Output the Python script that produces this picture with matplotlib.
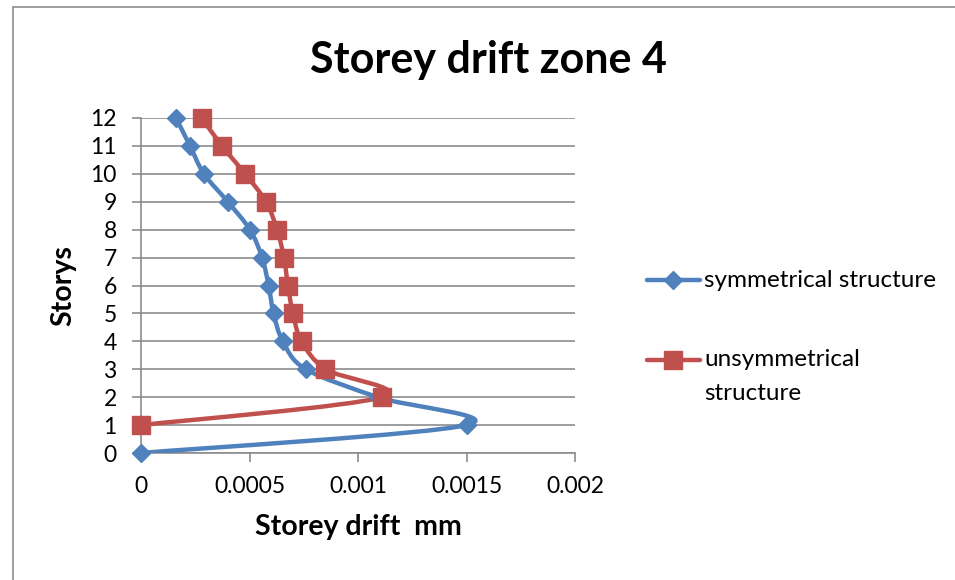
import numpy as np
import matplotlib
matplotlib.use("Agg")
from matplotlib import pyplot as plt
from matplotlib.path import Path
from matplotlib.patches import PathPatch, Rectangle
from matplotlib.lines import Line2D

plt.rcParams['font.family'] = ['Lato', 'DejaVu Sans']

# data
storys = [0, 1, 2, 3, 4, 5, 6, 7, 8, 9, 10, 11, 12]
sym_drift = [0.0, 0.0015, 0.00109, 0.00076, 0.000654, 0.000611, 0.000588, 0.000558,
             0.000502, 0.0004, 0.00029, 0.000226, 0.000161]
unsym_drift = [None, 0.0, 0.00111, 0.00085, 0.00074, 0.0007, 0.000677, 0.000659,
               0.000627, 0.000576, 0.00048, 0.000373, 0.00028]
legend_labels = ['symmetrical structure', 'unsymmetrical\nstructure']

blue = '#4F81BD'
red = '#C0504D'
grey = '#8C8C8C'
W, H = 955, 580


def smooth_path(xs, ys):
    # excel style smoothed line (catmull-rom bezier)
    pts = np.array(list(zip(xs, ys)), dtype=float)
    verts = [pts[0]]
    codes = [Path.MOVETO]
    n = len(pts)
    for i in range(n - 1):
        p0 = pts[i - 1] if i > 0 else pts[i]
        p1 = pts[i]
        p2 = pts[i + 1]
        p3 = pts[i + 2] if i + 2 < n else pts[i + 1]
        c1 = p1 + (p2 - p0) / 6.0
        c2 = p2 - (p3 - p1) / 6.0
        verts += [c1, c2, p2]
        codes += [Path.CURVE4] * 3
    return Path(verts, codes)


fig = plt.figure(figsize=(W / 100, H / 100), dpi=100)
fig.patches.append(Rectangle((13 / W, -0.05), 2.0, (1 - 7 / H) + 0.05,
                             transform=fig.transFigure, fill=False,
                             edgecolor=grey, linewidth=1.2))

ax = fig.add_axes([141 / W, 1 - 453 / H, 434 / W, 335 / H])
ax.set_xlim(0, 0.002)
ax.set_ylim(0, 12)

series = [
    (sym_drift, storys, blue, 'D', 9.5),
    ([v for v in unsym_drift if v is not None], storys[1:], red, 's', 12.5),
]
for xs, ys, col, mk, ms in series:
    ax.add_patch(PathPatch(smooth_path(xs, ys), facecolor='none', edgecolor=col,
                           linewidth=3.2, capstyle='round', joinstyle='round', zorder=3))
    ax.plot(xs, ys, linestyle='none', marker=mk, markersize=ms, color=col,
            markeredgecolor=col, zorder=4, clip_on=False)

ax.set_xticks([0, 0.0005, 0.001, 0.0015, 0.002])
ax.set_xticklabels(['0', '0.0005', '0.001', '0.0015', '0.002'])
ax.set_yticks(storys)
ax.grid(axis='y', color=grey, linewidth=1.2)
ax.set_axisbelow(True)
for s in ['top', 'right']:
    ax.spines[s].set_visible(False)
for s in ['left', 'bottom']:
    ax.spines[s].set_color(grey)
    ax.spines[s].set_linewidth(1.2)
ax.tick_params(axis='both', colors=grey, labelcolor='black', labelsize=16.5,
               length=6.5, width=1.2)
ax.tick_params(axis='x', pad=10)
ax.tick_params(axis='y', pad=11)

ax.set_xlabel('Storey drift  mm', fontsize=20.5, fontweight='bold', labelpad=12)
ax.set_ylabel('Storys', fontsize=20.5, fontweight='bold', labelpad=10)
fig.text(488 / W, 1 - 60 / H, 'Storey drift zone 4', ha='center', va='center',
         fontsize=31, fontweight='bold')

# legend drawn by hand so the marker lines up with the first text line
leg_y = [280, 360]
for (xs, ys, col, mk, ms), lab, y in zip(series, legend_labels, leg_y):
    fy = 1 - y / H
    fig.add_artist(Line2D([647 / W, 700 / W], [fy, fy], color=col, linewidth=3.2,
                          solid_capstyle='round', transform=fig.transFigure))
    fig.add_artist(Line2D([673 / W], [fy], marker=mk, markersize=ms, color=col,
                          linestyle='none', transform=fig.transFigure))
    fig.text(704 / W, fy, lab.split('\n')[0], ha='left', va='center', fontsize=17.5)
    for k, extra in enumerate(lab.split('\n')[1:]):
        fig.text(704 / W, 1 - (y + 33 * (k + 1)) / H, extra, ha='left',
                 va='center', fontsize=17.5)

fig.savefig('out.png', dpi=100)
